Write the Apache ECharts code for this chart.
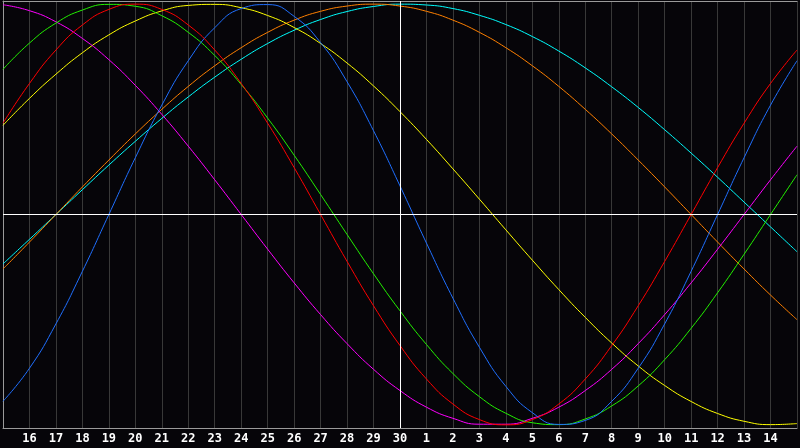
<!DOCTYPE html>
<html>
<head>
<meta charset="utf-8">
<script src="https://cdn.jsdelivr.net/npm/echarts@6/dist/echarts.min.js"></script>
<style>html,body{margin:0;padding:0;background:#060509;}#c{width:800px;height:448px;}</style>
</head>
<body>
<div id="c"></div>
<script>
var days = ['15','16','17','18','19','20','21','22','23','24','25','26','27','28','29','30','1','2','3','4','5','6','7','8','9','10','11','12','13','14','15'];
var todayIndex = 15;

var blue = [-88.8,-73.1,-52.0,-27.0,0,27.0,52.0,73.1,88.8,97.9,99.8,94.2,81.7,63.1,39.8,13.6,-13.6,-39.8,-63.1,-81.7,-94.2,-99.8,-97.9,-88.8,-73.1,-52.0,-27.0,0,27.0,52.0,73.1];
var red = [43.4,62.3,78.2,90.1,97.5,100,97.5,90.1,78.2,62.3,43.4,22.3,0,-22.3,-43.4,-62.3,-78.2,-90.1,-97.5,-100,-97.5,-90.1,-78.2,-62.3,-43.4,-22.3,0,22.3,43.4,62.3,78.2];
var green = [69.0,81.5,91.0,97.2,99.9,99.0,94.5,86.6,75.6,61.8,45.8,28.2,9.5,-9.5,-28.2,-45.8,-61.8,-75.6,-86.6,-94.5,-99.0,-99.9,-97.2,-91.0,-81.5,-69.0,-54.1,-37.2,-18.9,0,18.9];
var magenta = [99.7,96.9,91.6,83.7,73.6,61.4,47.6,32.5,16.5,0,-16.5,-32.5,-47.6,-61.4,-73.6,-83.7,-91.6,-96.9,-99.7,-99.7,-96.9,-91.6,-83.7,-73.6,-61.4,-47.6,-32.5,-16.5,0,16.5,32.5];
var yellow = [42.4,55.2,66.7,76.9,85.4,92.0,96.8,99.4,99.9,98.3,94.6,88.9,81.3,72.0,61.1,48.9,35.7,21.7,7.3,-7.3,-21.7,-35.7,-48.9,-61.1,-72.0,-81.3,-88.9,-94.6,-98.3,-99.9,-99.4];
var orange = [-25.9,-13.1,0,13.1,25.9,38.3,50,60.9,70.7,79.3,86.6,92.4,96.6,99.1,100,99.1,96.6,92.4,86.6,79.3,70.7,60.9,50,38.3,25.9,13.1,0,-13.1,-25.9,-38.3,-50];
var cyan = [-23.5,-11.8,0,11.8,23.5,34.8,45.7,55.9,65.3,73.8,81.3,87.6,92.7,96.5,98.9,100.0,99.6,97.9,94.7,90.3,84.6,77.7,69.7,60.7,50.9,40.3,29.2,17.7,5.9,-5.9,-17.7];

var seriesDefs = [
  {name:'cyan', data:cyan, color:'#00ffff'},
  {name:'orange', data:orange, color:'#ff8000'},
  {name:'yellow', data:yellow, color:'#ffff00'},
  {name:'magenta', data:magenta, color:'#ff00ff'},
  {name:'green', data:green, color:'#22f000'},
  {name:'blue', data:blue, color:'#1f6fff'},
  {name:'red', data:red, color:'#ff0000'}
];

var chart = echarts.init(document.getElementById('c'), null, {renderer:'canvas'});
var series = seriesDefs.map(function(s){
  return {
    name:s.name, type:'line', data:s.data, smooth:0.5, symbol:'none',
    lineStyle:{color:s.color, width:1}, itemStyle:{color:s.color},
    silent:true, animation:false, z:3
  };
});
series.push({
  type:'line', data:[], silent:true, animation:false, z:2,
  markLine:{
    silent:true, symbol:['none','none'], animation:false,
    label:{show:false},
    lineStyle:{color:'#ffffff', width:1, type:'solid'},
    data:[{yAxis:0},{xAxis:todayIndex}]
  }
});

chart.setOption({
  backgroundColor:'#060509',
  animation:false,
  grid:{left:1, right:-1, top:1, bottom:20, show:false},
  xAxis:[{
    type:'category', data:days, boundaryGap:false,
    axisLine:{show:true, onZero:false, lineStyle:{color:'#9a9a9a', width:1}},
    axisTick:{show:false},
    splitLine:{show:true, interval:0, lineStyle:{color:'#383838', width:1}},
    axisLabel:{
      interval:0, color:'#ffffff', fontWeight:'bold', fontSize:12,
      fontFamily:'DejaVu Sans Mono', margin:5,
      formatter:function(v, idx){ return (idx===0 || idx===days.length-1) ? '' : v; }
    }
  },{
    type:'category', data:days, boundaryGap:false, position:'top',
    axisLine:{show:true, onZero:false, lineStyle:{color:'#9a9a9a', width:1}},
    axisTick:{show:false}, axisLabel:{show:false}, splitLine:{show:false}
  }],
  yAxis:{
    type:'value', min:-101.5, max:101.5,
    axisLine:{show:true, onZero:false, lineStyle:{color:'#9a9a9a', width:1}},
    axisTick:{show:false}, axisLabel:{show:false},
    splitLine:{show:false}
  },
  series:series
});
</script>
</body>
</html>
